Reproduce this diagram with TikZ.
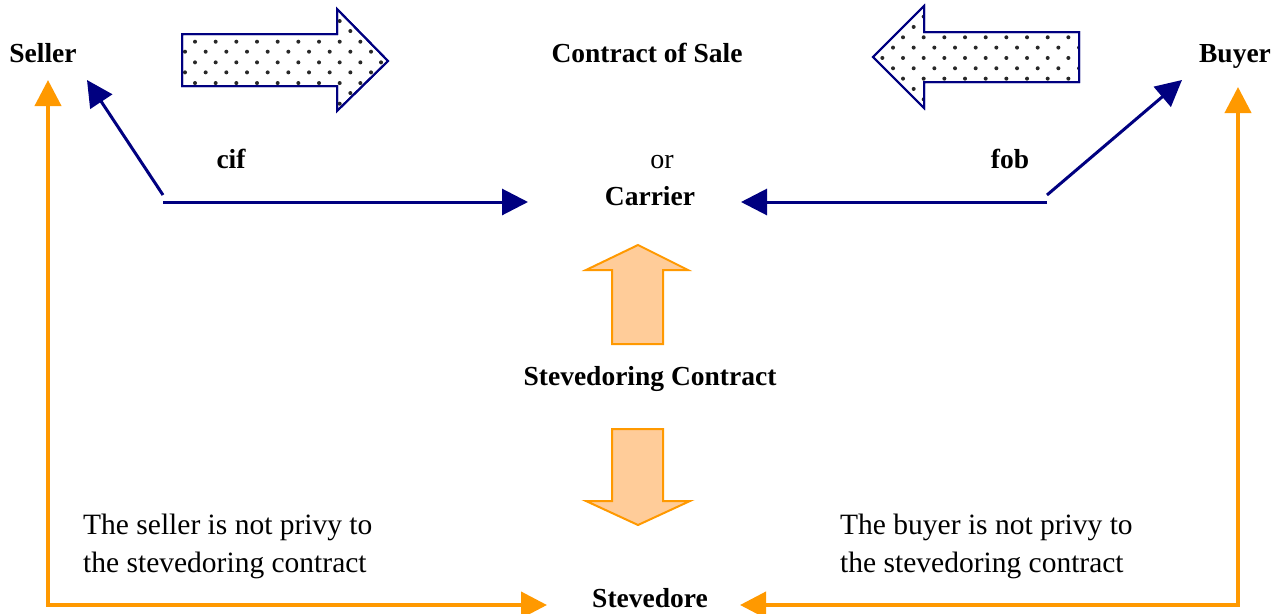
\documentclass[tikz,border=0pt]{standalone}
\usepackage{fontspec}
\setmainfont{Liberation Serif}
\usetikzlibrary{arrows.meta}
\definecolor{navy}{RGB}{0,0,128}
\definecolor{orangeline}{RGB}{255,153,0}
\definecolor{orangefill}{RGB}{255,204,153}
\definecolor{dotgray}{RGB}{40,40,40}

\begin{document}
\begin{tikzpicture}[x=1pt,y=-1pt,
  lbl/.style={anchor=base, inner sep=0pt, font=\fontsize{28}{38}\selectfont},
  blbl/.style={anchor=base, inner sep=0pt, font=\fontsize{27.5}{38}\selectfont\bfseries},
  note/.style={anchor=base west, inner sep=0pt, align=left, font=\fontsize{29.5}{38}\selectfont},
  navyarrow/.style={draw=navy, line width=3pt, -{Triangle[length=26pt,width=26pt]}},
  orangearrow/.style={draw=orangeline, line width=4pt,
    {Triangle[length=26pt,width=26pt]}-{Triangle[length=26pt,width=26pt]}},
  blockblue/.style={draw=navy, line width=2pt, fill=white, line join=miter},
  blockorange/.style={draw=orangeline, line width=2pt, fill=orangefill, line join=miter},
  dot/.style={fill=dotgray}
]
\useasboundingbox (0,0) rectangle (1279,613);
\fill[white] (0,0) rectangle (1279,613);

% parties and contracts
\node[blbl] (seller) at (43,62) {Seller};
\node[blbl] (contract) at (647,62) {Contract of Sale};
\node[blbl] (buyer) at (1235,62) {Buyer};
\node[blbl] (cif) at (231,168) {cif};
\node[blbl] (fob) at (1010,168) {fob};
\node[lbl] (or) at (662,168) {or};
\node[blbl] (carrier) at (650,205) {Carrier};
\node[blbl] (stevcontract) at (650,385) {Stevedoring Contract};
\node[blbl] (stevedore) at (650,607) {Stevedore};
% two-line notes: the base anchor sits on the last line
\node[note] (sellernote) at (83,572) {The seller is not privy to\\the stevedoring contract};
\node[note] (buyernote) at (840,572) {The buyer is not privy to\\the stevedoring contract};

% block arrows of the contract of sale, dotted fill
\draw[blockblue] (182,34) -- (337,34) -- (337,9) -- (388,61) -- (337,111) -- (337,86) -- (182,86) -- cycle;
\begin{scope}
  \clip (182,34) -- (337,34) -- (337,9) -- (388,61) -- (337,111) -- (337,86) -- (182,86) -- cycle;
  \foreach \i in {-1,...,10} \foreach \j in {-2,...,3} {
    \fill[dot] ({195+20.67*\i},{41.7+20.67*\j}) circle (2);
    \fill[dot] ({185+20.67*\i},{51.7+20.67*\j}) circle (2);
  }
\end{scope}
\draw[blockblue, fill=none] (182,34) -- (337,34) -- (337,9) -- (388,61) -- (337,111) -- (337,86) -- (182,86) -- cycle;

\draw[blockblue] (1079,32) -- (924,32) -- (924,6) -- (873,57) -- (924,108) -- (924,82) -- (1079,82) -- cycle;
\begin{scope}
  \clip (1079,32) -- (924,32) -- (924,6) -- (873,57) -- (924,108) -- (924,82) -- (1079,82) -- cycle;
  \foreach \i in {-2,...,9} \foreach \j in {-2,...,3} {
    \fill[dot] ({903+20.67*\i},{37.3+20.67*\j}) circle (2);
    \fill[dot] ({893+20.67*\i},{47.6+20.67*\j}) circle (2);
  }
\end{scope}
\draw[blockblue, fill=none] (1079,32) -- (924,32) -- (924,6) -- (873,57) -- (924,108) -- (924,82) -- (1079,82) -- cycle;

% block arrows of the stevedoring contract
\draw[blockorange] (612,344) -- (612,270) -- (586,270) -- (638,245) -- (688,270) -- (663,270) -- (663,344) -- cycle;
\draw[blockorange] (612,429) -- (663,429) -- (663,501) -- (690,501) -- (638,525) -- (586,501) -- (612,501) -- cycle;

% connector end points
\coordinate (cifA) at (163,195);
\coordinate (cifB) at (163,202);
\coordinate (sellerTip) at (87,80);
\coordinate (carrierL) at (528,202);
\coordinate (fobA) at (1047,195);
\coordinate (fobB) at (1047,202);
\coordinate (buyerTip) at (1182,80);
\coordinate (carrierR) at (741,202);
\coordinate (sellerUp) at (48,80);
\coordinate (sellerCorner) at (48,605);
\coordinate (stevL) at (547,605);
\coordinate (buyerUp) at (1238,87);
\coordinate (buyerCorner) at (1238,605);
\coordinate (stevR) at (740,605);

% cif / fob connectors
\draw[navyarrow] (cifA) -- (sellerTip);
\draw[navyarrow] (cifB) -- (carrierL);
\draw[navyarrow] (fobA) -- (buyerTip);
\draw[navyarrow] (fobB) -- (carrierR);

% privity connectors
\draw[orangearrow] (sellerUp) -- (sellerCorner) -- (stevL);
\draw[orangearrow] (buyerUp) -- (buyerCorner) -- (stevR);
\end{tikzpicture}
\end{document}
